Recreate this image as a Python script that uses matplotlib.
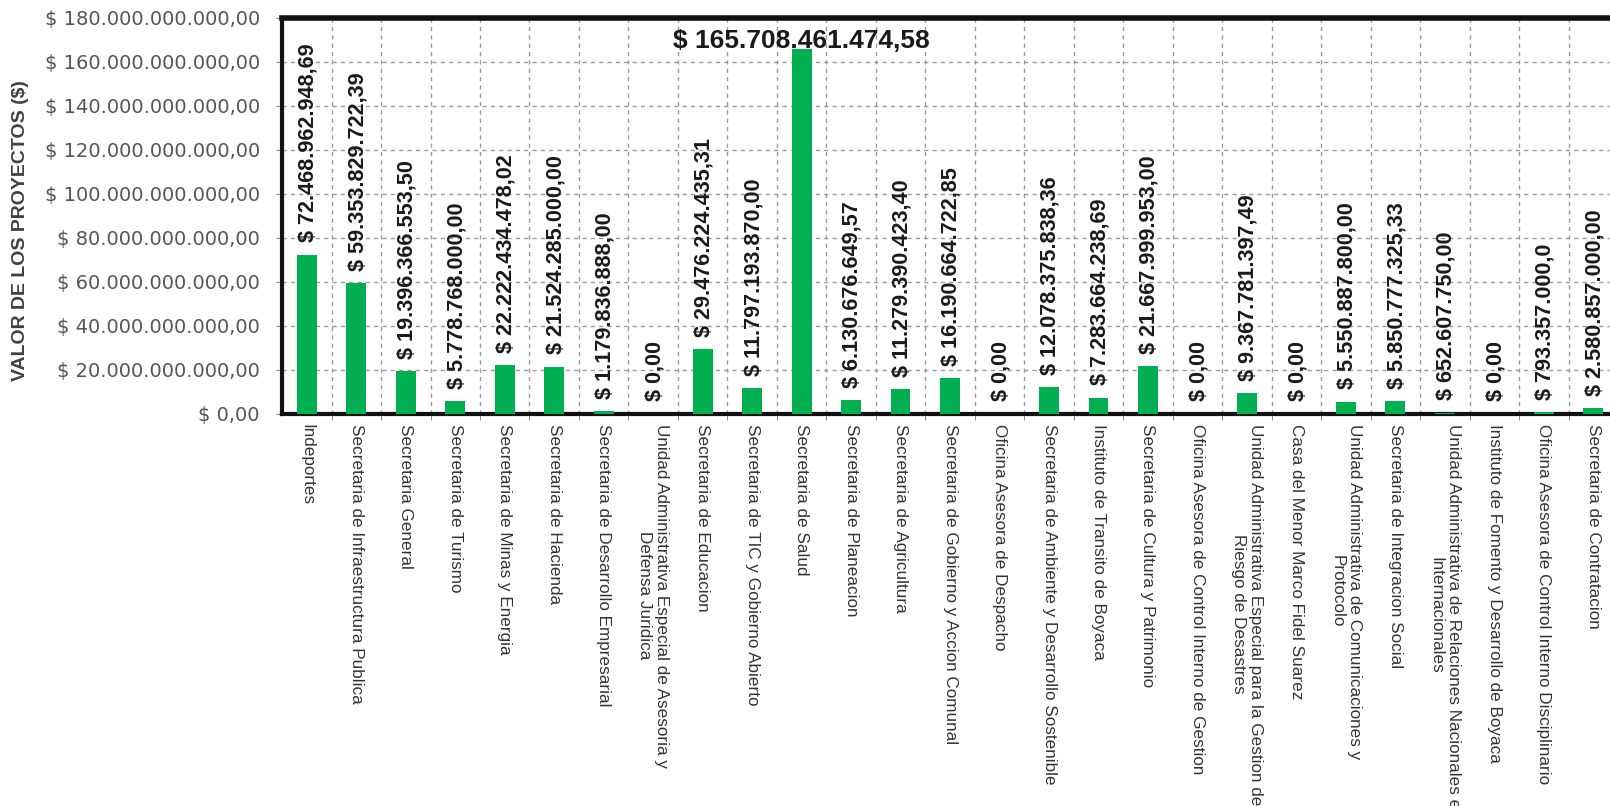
import matplotlib
matplotlib.use('Agg')
import matplotlib.pyplot as plt
from matplotlib.ticker import FuncFormatter, FixedLocator

plt.rcParams['font.family'] = ['Liberation Sans', 'DejaVu Sans']

# Dependencias y valor de los proyectos
categories = [
    'Indeportes',
    'Secretaria de Infraestructura Publica',
    'Secretaria General',
    'Secretaria de Turismo',
    'Secretaria de Minas y Energia',
    'Secretaria de Hacienda',
    'Secretaria de Desarrollo Empresarial',
    'Unidad Administrativa Especial de Asesoria y\nDefensa Juridica',
    'Secretaria de Educacion',
    'Secretaria de TIC y Gobierno Abierto',
    'Secretaria de Salud',
    'Secretaria de Planeacion',
    'Secretaria de Agricultura',
    'Secretaria de Gobierno y Accion Comunal',
    'Oficina Asesora de Despacho',
    'Secretaria de Ambiente y Desarrollo Sostenible',
    'Instituto de Transito de Boyaca',
    'Secretaria de Cultura y Patrimonio',
    'Oficina Asesora de Control Interno de Gestion',
    'Unidad Administrativa Especial para la Gestion de\nRiesgo de Desastres',
    'Casa del Menor Marco Fidel Suarez',
    'Unidad Administrativa de Comunicaciones y\nProtocolo',
    'Secretaria de Integracion Social',
    'Unidad Administrativa de Relaciones Nacionales e\nInternacionales',
    'Instituto de Fomento y Desarrollo de Boyaca',
    'Oficina Asesora de Control Interno Disciplinario',
    'Secretaria de Contratacion',
]

valores = [
    72468962948.69, 59353829722.39, 19396366553.50, 5778768000.00,
    22222434478.02, 21524285000.00, 1179836888.00, 0.0,
    29476224435.31, 11797193870.00, 165708461474.58, 6130676649.57,
    11279390423.40, 16190664722.85, 0.0, 12078375838.36,
    7283664238.69, 21667999953.00, 0.0, 9367781397.49,
    0.0, 5550887800.00, 5850777325.33, 652607750.00,
    0.0, 793357000.0, 2580857000.00,
]

etiquetas = [
    '$ 72.468.962.948,69', '$ 59.353.829.722,39', '$ 19.396.366.553,50',
    '$ 5.778.768.000,00', '$ 22.222.434.478,02', '$ 21.524.285.000,00',
    '$ 1.179.836.888,00', '$ 0,00', '$ 29.476.224.435,31',
    '$ 11.797.193.870,00', '$ 165.708.461.474,58', '$ 6.130.676.649,57',
    '$ 11.279.390.423,40', '$ 16.190.664.722,85', '$ 0,00',
    '$ 12.078.375.838,36', '$ 7.283.664.238,69', '$ 21.667.999.953,00',
    '$ 0,00', '$ 9.367.781.397,49', '$ 0,00', '$ 5.550.887.800,00',
    '$ 5.850.777.325,33', '$ 652.607.750,00', '$ 0,00',
    '$ 793.357.000,0', '$ 2.580.857.000,00',
]

y_ticks = [0, 20e9, 40e9, 60e9, 80e9, 100e9, 120e9, 140e9, 160e9, 180e9]


def pesos(v, pos=None):
    return '$ ' + f'{int(round(v)):,}'.replace(',', '.') + ',00'


fig = plt.figure(figsize=(16.1, 8.06), dpi=100)
ax = fig.add_axes([0.1752, 0.4864, 0.8298, 0.4913])

x = list(range(len(categories)))
ax.bar(x, valores, width=0.4, color='#00B050', zorder=3)

ax.set_xlim(-0.5, len(categories) - 0.5)
ax.set_ylim(0, 180e9)

# grid
ax.yaxis.set_major_locator(FixedLocator(y_ticks))
ax.yaxis.set_major_formatter(FuncFormatter(pesos))
ax.set_xticks(x)
ax.set_xticklabels(categories, rotation=270, fontsize=12.3, color='#333333',
                   ha='center', va='top', multialignment='center')
ax.set_xticks([i + 0.5 for i in x[:-1]], minor=True)
ax.tick_params(axis='x', which='major', length=0, pad=7)
ax.tick_params(axis='x', which='minor', length=4, color='#777777')
ax.tick_params(axis='y', length=4, color='#888888', pad=12, labelsize=14,
               labelcolor='#555555')
for t in ax.get_yticklabels():
    t.set_fontfamily('DejaVu Sans')

ax.grid(True, axis='y', which='major', linestyle=(0, (3, 3)), color='#9a9a9a', lw=1, zorder=0)
ax.grid(True, axis='x', which='minor', linestyle=(0, (3, 3)), color='#9a9a9a', lw=1, zorder=0)

for s in ['top', 'left', 'bottom']:
    ax.spines[s].set_color('#111111')
ax.spines['top'].set_linewidth(4)
ax.spines['left'].set_linewidth(3)
ax.spines['bottom'].set_linewidth(3)
ax.spines['right'].set_visible(False)

# etiquetas de valor
imax = valores.index(max(valores))
for i, (v, lab) in enumerate(zip(valores, etiquetas)):
    if i == imax:
        ax.annotate(lab, (i, v), xytext=(0, 1), textcoords='offset points',
                    ha='center', va='baseline', fontsize=19, fontweight='bold',
                    color='#1a1a1a', zorder=4)
    else:
        ax.annotate(lab, (i, v), xytext=(1, 9), textcoords='offset points',
                    ha='center', va='bottom', rotation=90, fontsize=15.6,
                    fontweight='bold', color='#1a1a1a', zorder=4)

fig.text(21 / 1610, 1 - 231 / 806, 'VALOR DE LOS PROYECTOS ($)', rotation=90,
         ha='center', va='center', fontsize=14, fontweight='bold', color='#404040')

fig.savefig('out.png', dpi=100)
